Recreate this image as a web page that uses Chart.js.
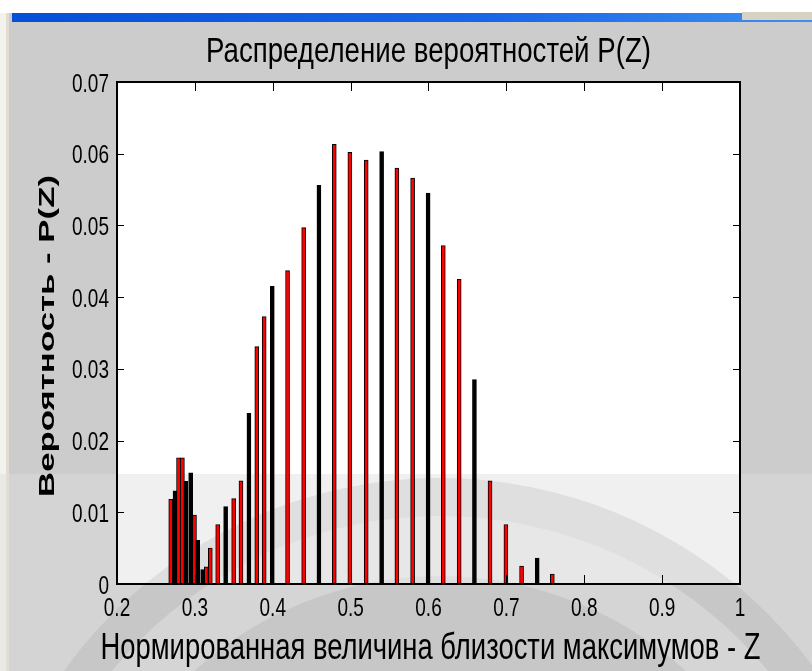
<!DOCTYPE html>
<html>
<head>
<meta charset="utf-8">
<script src="https://cdn.jsdelivr.net/npm/chart.js@4.4.0/dist/chart.umd.min.js"></script>
<style>
  body { margin: 0; background: #cccccc; }
  #wrap { position: relative; width: 812px; height: 671px; overflow: hidden; }
  #topwhite { position: absolute; left: 0; top: 0; width: 812px; height: 13px; background: #ffffff; }
  #titlebar { position: absolute; left: 12px; top: 13px; width: 800px; height: 9px;
    background: linear-gradient(to right, #0550d8, #1a66e6 60%, #3d8ff2); }
  #btns { position: absolute; left: 742px; top: 12px; width: 70px; height: 8px; background: #d8d2c2; }
  #leftedge { position: absolute; left: 0; top: 13px; width: 6px; height: 658px; background: #f4f2ec; }
  #leftline { position: absolute; left: 6px; top: 13px; width: 3px; height: 658px; background: #e2ddd0; }
  canvas { position: absolute; left: 0; top: 0; }
</style>
</head>
<body>
<div id="wrap">
  <div id="topwhite"></div>
  <div id="titlebar"></div>
  <div id="btns"></div>
  <div id="leftedge"></div>
  <div id="leftline"></div>
  <canvas id="bar-chart" width="812" height="671"></canvas>
</div>
<script>
// normalized proximity of maxima (Z) and probability P(Z)
var zValues = [0.269, 0.2745, 0.279, 0.284, 0.2886, 0.2946, 0.2995, 0.3036, 0.310, 0.3147,
  0.3198, 0.3293, 0.3395, 0.3498, 0.3592, 0.3694, 0.3795, 0.389, 0.3994, 0.419,
  0.4397, 0.4593, 0.479, 0.499, 0.520, 0.5398, 0.5594, 0.5796, 0.5995, 0.619,
  0.6394, 0.659, 0.679, 0.6994, 0.7195, 0.7396, 0.759];
var probValues = [0.0118, 0.0130, 0.0176, 0.0176, 0.0143, 0.0155, 0.0096, 0.0061, 0.0020, 0.0024,
  0.0050, 0.0083, 0.0108, 0.0119, 0.0144, 0.0238, 0.0331, 0.0373, 0.0415, 0.0437,
  0.0497, 0.0556, 0.0613, 0.0602, 0.0591, 0.0603, 0.0580, 0.0566, 0.0545, 0.0472,
  0.0425, 0.0285, 0.0144, 0.0083, 0.0025, 0.0036, 0.0014];
var xTicks = [0.2, 0.3, 0.4, 0.5, 0.6, 0.7, 0.8, 0.9, 1];
var yTicks = [0, 0.01, 0.02, 0.03, 0.04, 0.05, 0.06, 0.07];

var chartTitle = "Распределение вероятностей P(Z)";
var xTitle = "Нормированная величина близости максимумов - Z";
var yTitle = "Вероятность - P(Z)";

// which bars show up red and which render solid black
var barLook = "rkrrkkrkkrrrkrrkrrkrrkrrrkrrkrrkrrrkr";

var sans = "'Liberation Sans', Arial, sans-serif";

// the screenshot is stretched vertically, so text is drawn tall and narrow
function tallText(ctx, text, x, y, size, stretch, maxW, align) {
  ctx.save();
  ctx.translate(x, y);
  ctx.scale(1, stretch);
  ctx.font = size + "px " + sans;
  ctx.textAlign = align || "center";
  ctx.textBaseline = "alphabetic";
  if (maxW) ctx.fillText(text, 0, 0, maxW); else ctx.fillText(text, 0, 0);
  ctx.restore();
}

var matlabFrame = {
  id: "matlabFrame",
  beforeDatasetsDraw: function (chart) {
    var a = chart.chartArea, ctx = chart.ctx;
    ctx.save();
    ctx.fillStyle = "#ffffff";
    ctx.fillRect(a.left, a.top, a.right - a.left, a.bottom - a.top);

    // faint seal watermark over the lower part of the screenshot
    ctx.fillStyle = "rgba(222,222,222,0.45)";
    ctx.fillRect(0, 474, chart.width, chart.height - 474);
    ctx.beginPath();
    ctx.rect(0, 474, chart.width, chart.height - 474);
    ctx.clip();
    ctx.beginPath();
    ctx.arc(440, 941, 463, 0, Math.PI * 2);
    ctx.fillStyle = "rgba(110,110,110,0.13)";
    ctx.fill();
    ctx.beginPath();
    ctx.arc(440, 941, 425, 0, Math.PI * 2);
    ctx.arc(440, 941, 365, 0, Math.PI * 2, true);
    ctx.fillStyle = "rgba(255,255,255,0.25)";
    ctx.fill();
    ctx.restore();
  },
  afterDatasetsDraw: function (chart) {
    var a = chart.chartArea, ctx = chart.ctx;
    var xs = chart.scales.x, ys = chart.scales.y;
    ctx.save();
    ctx.strokeStyle = "#000000";
    ctx.lineWidth = 1;
    ctx.beginPath();
    xTicks.forEach(function (v) {
      var px = Math.round(xs.getPixelForValue(v)) + 0.5;
      ctx.moveTo(px, a.bottom); ctx.lineTo(px, a.bottom - 9);
      ctx.moveTo(px, a.top); ctx.lineTo(px, a.top + 9);
    });
    yTicks.forEach(function (v) {
      var py = Math.round(ys.getPixelForValue(v)) + 0.5;
      ctx.moveTo(a.left, py); ctx.lineTo(a.left + 7, py);
      ctx.moveTo(a.right, py); ctx.lineTo(a.right - 7, py);
    });
    ctx.stroke();
    ctx.lineWidth = 2;
    ctx.strokeRect(a.left, a.top, a.right - a.left, a.bottom - a.top);
    ctx.restore();
  },
  afterDraw: function (chart) {
    var a = chart.chartArea, ctx = chart.ctx;
    var xs = chart.scales.x, ys = chart.scales.y;
    ctx.save();
    ctx.fillStyle = "#000000";
    xTicks.forEach(function (v) {
      tallText(ctx, String(v), xs.getPixelForValue(v), a.bottom + 32, 19, 1.4);
    });
    yTicks.forEach(function (v) {
      tallText(ctx, String(v), a.left - 8, ys.getPixelForValue(v) + 9.5, 19, 1.4, 0, "right");
    });
    tallText(ctx, chartTitle, (a.left + a.right) / 2, 62, 28, 1.25, 445);
    tallText(ctx, xTitle, (a.left + a.right) / 2 + 2, 659, 29, 1.3, 660);

    // y title: rotated, stretched along its length
    ctx.translate(53.5, (a.top + a.bottom) / 2 + 3);
    ctx.rotate(-Math.PI / 2);
    ctx.font = "bold 22px " + sans;
    var w = ctx.measureText(yTitle).width;
    ctx.scale(322 / w, 1);
    ctx.textAlign = "center";
    ctx.textBaseline = "alphabetic";
    ctx.fillText(yTitle, 0, 0);
    ctx.restore();
  }
};

function probChart() {
  new Chart(document.getElementById("bar-chart"), {
    type: "bar",
    data: {
      datasets: [
        {
          label: "P(Z)",
          data: zValues.map(function (z, i) { return { x: z, y: probValues[i] }; }),
          backgroundColor: function (c) {
            return barLook[c.dataIndex] === "r" ? "#ff0000" : "#000000";
          },
          borderColor: "#000000",
          borderWidth: 1,
          barThickness: 4,
        },
      ],
    },
    options: {
      responsive: false,
      animation: false,
      layout: { padding: { left: 30, right: 72, top: 82, bottom: 0 } },
      plugins: {
        legend: { display: false },
        tooltip: { enabled: false },
        title: { display: false },
      },
      scales: {
        x: {
          type: "linear",
          min: 0.2,
          max: 1,
          offset: false,
          grid: { display: false, offset: false, drawTicks: false },
          border: { display: false },
          ticks: { display: false, stepSize: 0.1 },
          afterFit: function (s) { s.height = 87; },
        },
        y: {
          min: 0,
          max: 0.07,
          grid: { display: false, drawTicks: false },
          border: { display: false },
          ticks: { display: false, stepSize: 0.01 },
          afterFit: function (s) { s.width = 87; },
        },
      },
    },
    plugins: [matlabFrame],
  });
}

document.addEventListener("DOMContentLoaded", function () {
  probChart();
});
</script>
</body>
</html>
